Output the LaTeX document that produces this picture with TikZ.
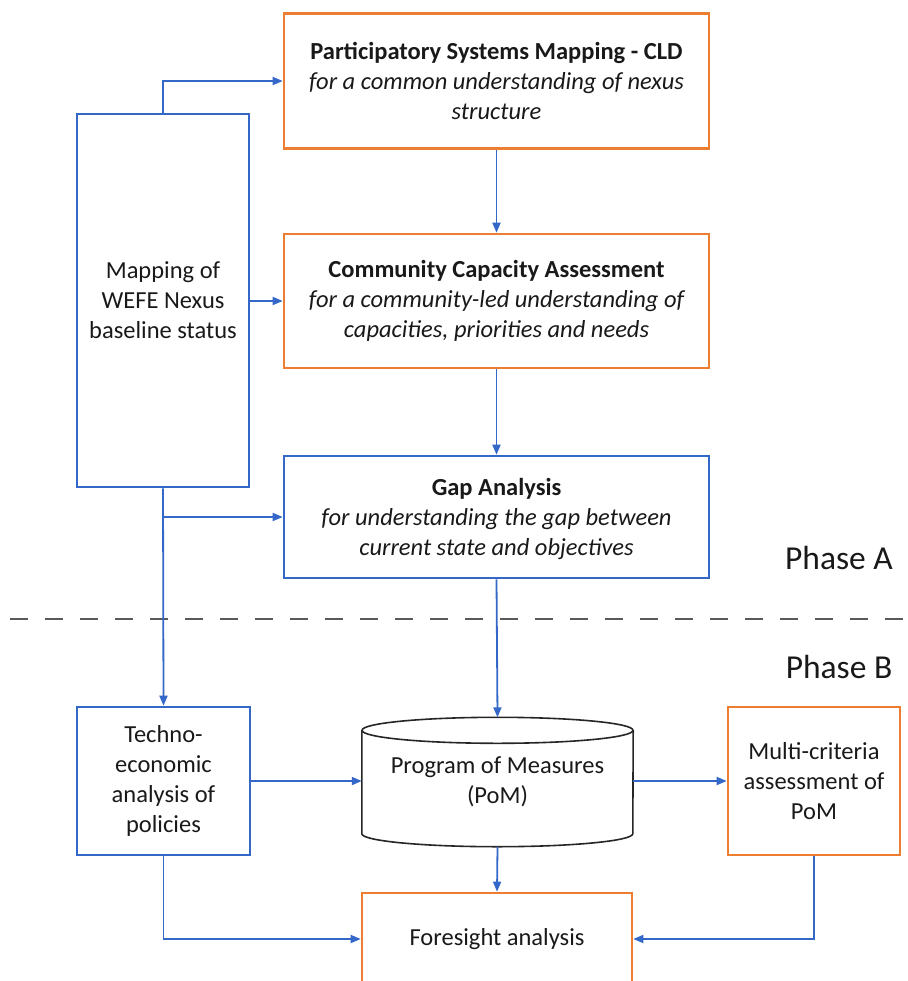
\documentclass[tikz,border=0pt]{standalone}
\usepackage{fontspec}
\setmainfont{Carlito}
\usetikzlibrary{arrows.meta}
\definecolor{oblue}{RGB}{52,104,200}
\definecolor{oorange}{RGB}{237,125,49}
\definecolor{txt}{RGB}{25,25,25}
\tikzset{
  box/.style={line width=2.6pt, inner sep=0pt, align=center, text=txt,
    font=\fontsize{24.5}{30}\selectfont},
  bbox/.style={box, draw=oblue},
  obox/.style={box, draw=oorange},
  conn/.style={draw=oblue, line width=1.8pt, -{Triangle[length=10pt,width=8pt]}},
  cyl/.style={draw=black!85, line width=1.6pt},
  phase/.style={font=\fontsize{33.5}{40}\selectfont, text=txt, inner sep=0pt},
  sep/.style={draw=black!65, line width=1.6pt, dash pattern=on 18pt off 17pt},
}
\begin{document}
\begin{tikzpicture}[x=1pt,y=-1pt]
\useasboundingbox (0,0) rectangle (907,981);
% phase A boxes
\node[obox, minimum width=425, minimum height=135] (pm) at (496.5,81)
  {\textbf{Participatory Systems Mapping - CLD}\\\itshape for a common understanding of nexus\\\itshape structure};
\node[obox, minimum width=425, minimum height=134] (cca) at (496.5,301)
  {\textbf{Community Capacity Assessment}\\\itshape for a community-led understanding of\\\itshape capacities, priorities and needs};
\node[bbox, minimum width=425, minimum height=122, text depth=1pt] (gap) at (496.5,517)
  {\textbf{Gap Analysis}\\\itshape for understanding the gap between\\\itshape current state and objectives};
\node[bbox, minimum width=172, minimum height=373] (wefe) at (163,300.5)
  {Mapping of\\WEFE Nexus\\baseline status};
% phase labels and separator
\node[phase] (pa) at (839,558) {Phase A};
\node[phase] (pb) at (839,667) {Phase B};
\coordinate (sepl) at (10,619);
\coordinate (sepr) at (907,619);
\draw[sep] (sepl) -- (sepr);
% phase B
\node[bbox, minimum width=173, minimum height=148] (tech) at (163.5,781)
  {Techno-\\economic\\analysis of\\policies};
\node[inner sep=0pt, minimum width=271, minimum height=129, align=center, text=txt,
  font=\fontsize{24.5}{30}\selectfont] (pom) at (497.5,782)
  {Program of Measures\\(PoM)};
\draw[cyl] ([yshift=-13pt]pom.north) ellipse [x radius=135.5pt, y radius=13pt];
\draw[cyl] ([yshift=-13pt]pom.north west) -- ([yshift=13pt]pom.south west)
  arc[start angle=180, end angle=360, x radius=135.5pt, y radius=13pt]
  -- ([yshift=-13pt]pom.north east);
\node[obox, minimum width=172, minimum height=148] (mca) at (814,781)
  {Multi-criteria\\assessment of\\PoM};
\node[obox, minimum width=270, minimum height=92] (fore) at (497,939)
  {Foresight analysis};
% connectors
\draw[conn] (wefe.north) |- (pm.west);
\draw[conn] (pm.south) -- (cca.north);
\draw[conn] (cca.south) -- (gap.north);
\draw[conn] (wefe.east |- cca.west) -- (cca.west);
\coordinate (br) at (wefe.south |- gap.west);
\draw[conn] (br) -- (gap.west);
\draw[conn] (wefe.south) -- (tech.north);
\draw[conn] (gap.south) -- (pom.north);
\draw[conn] (tech.east) -- (tech.east -| pom.west);
\draw[conn] (pom.east |- mca.west) -- (mca.west);
\draw[conn] (pom.south) -- (fore.north);
\draw[conn] (tech.south) |- (fore.west);
\draw[conn] (mca.south) |- (fore.east);
\end{tikzpicture}
\end{document}
